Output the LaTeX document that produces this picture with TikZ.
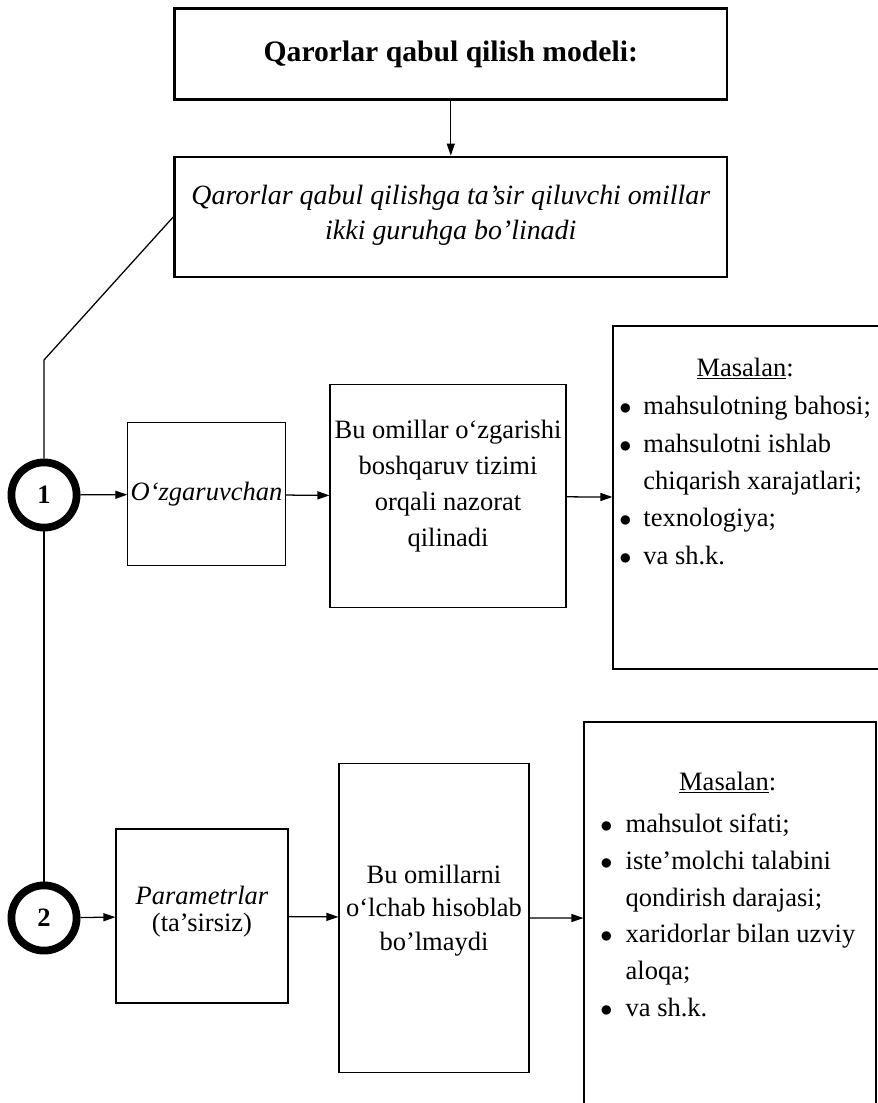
\documentclass[tikz,border=0pt]{standalone}
\usepackage{fontspec}
\setmainfont{Liberation Serif}
\usetikzlibrary{arrows.meta}

\newcommand{\listdot}{\ensuremath{\bullet}}

\begin{document}
\begin{tikzpicture}[
    every node/.style={font=\fontsize{18.85}{25.6}\selectfont},
    headbox/.style={draw, line width=2pt, minimum width=13.81cm, align=center},
    plainbox/.style={draw, line width=0.8pt, align=center, inner sep=2pt},
    listbox/.style={draw, line width=0.8pt},
    listtext/.style={anchor=base west, inner sep=0pt, font=\fontsize{18.85}{26.6}\selectfont},
    numcircle/.style={circle, draw, line width=5.5pt, minimum size=1.63cm, inner sep=0pt,
                      font=\fontsize{18.85}{25.6}\selectfont\bfseries},
    link/.style={-{Triangle[length=3mm, width=2mm]}, line width=0.9pt},
]
\useasboundingbox (0,0) rectangle (21.95,-27.575);

% --- Sarlavha va ikki guruh --------------------------------------------
\node[headbox, minimum height=2.275cm,
      font=\bfseries\fontsize{21.1}{26}\selectfont] (model) at (11.27,-1.36)
    {Qarorlar qabul qilish modeli:};
\node[headbox, minimum height=3.0cm,
      font=\itshape\fontsize{19.85}{24.9}\selectfont] (groups) at (11.27,-5.425)
    {Qarorlar qabul qilishga ta’sir qiluvchi omillar\\ikki guruhga bo’linadi\\[-18pt]\mbox{}};
\draw[link] (model) -- (groups);

% --- Raqamli doiralar va chap chiziq -----------------------------------
\node[numcircle] (c1) at (1.1,-12.375) {1};
\node[numcircle] (c2) at (1.1,-22.95) {2};
\coordinate (bend) at (1.1,-9.0);
\draw[line width=0.9pt] (groups.west) -- (bend) -- (c1);
\draw[line width=0.9pt] (c1) -- (c2);

% --- 1-guruh -------------------------------------------------------------
\node[plainbox, minimum width=3.925cm, minimum height=3.575cm,
      font=\fontsize{18.85}{25.6}\selectfont\itshape] (varying) at (5.1625,-12.36)
    {O‘zgaruvchan};
\node[plainbox, minimum width=5.9cm, minimum height=5.575cm] (control) at (11.2,-12.41)
    {Bu omillar o‘zgarishi\\boshqaruv tizimi\\orqali nazorat\\qilinadi\\[-7pt]\mbox{}};
\node[listbox, minimum width=6.725cm, minimum height=8.575cm] (example1) at (18.6875,-12.4375) {};
\node[listtext] (list1) at (15.475,-9.4)
    {\begin{tabular}[t]{@{}l@{\hspace{0.3cm}}l@{}}
      \multicolumn{2}{c}{\underline{Masalan}:}\\[1pt]
      \listdot & mahsulotning bahosi;\\
      \listdot & mahsulotni ishlab\\
               & chiqarish xarajatlari;\\
      \listdot & texnologiya;\\
      \listdot & va sh.k.
     \end{tabular}};

\draw[link] (c1) -- (varying);
\draw[link] (varying) -- (control);
\draw[link] (control) -- (example1);

% --- 2-guruh -------------------------------------------------------------
\node[plainbox, minimum width=4.3cm, minimum height=4.35cm] (params) at (5.05,-22.9)
    {\textit{Parametrlar}\\[-6pt](ta’sirsiz)\\[-15.6pt]\mbox{}};
\node[plainbox, minimum width=4.75cm, minimum height=7.725cm,
      font=\fontsize{18.85}{23.8}\selectfont] (nomeasure) at (10.85,-22.94)
    {Bu omillarni\\o‘lchab hisoblab\\bo’lmaydi\\[-9.6pt]\mbox{}};
\node[listbox, minimum width=7.3cm, minimum height=9.825cm] (example2) at (18.25,-22.9625) {};
\node[listtext, font=\fontsize{18.85}{26.2}\selectfont] (list2) at (15.0,-19.75)
    {\begin{tabular}[t]{@{}l@{\hspace{0.33cm}}l@{}}
      \multicolumn{2}{c}{\underline{Masalan}:}\\[4pt]
      \listdot & mahsulot sifati;\\
      \listdot & iste’molchi talabini\\
               & qondirish darajasi;\\
      \listdot & xaridorlar bilan uzviy\\
               & aloqa;\\
      \listdot & va sh.k.
     \end{tabular}};

\draw[link] (c2) -- (params);
\draw[link] (params) -- (nomeasure);
\draw[link] (nomeasure) -- (example2);

\end{tikzpicture}
\end{document}
